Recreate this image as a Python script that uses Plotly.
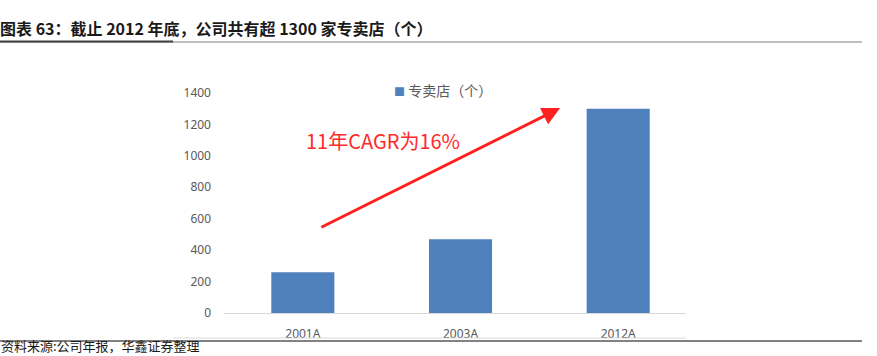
import plotly.graph_objects as go

categories = ["2001A", "2003A", "2012A"]
stores = [260, 470, 1300]
y_ticks = [0, 200, 400, 600, 800, 1000, 1200, 1400]
series_name = "专卖店（个）"
title_text = "图表 63：截止 2012 年底，公司共有超 1300 家专卖店（个）"
source_text = "资料来源:公司年报，华鑫证券整理"
cagr_text = "11年CAGR为16%"

W, H = 877, 356
L, R, T, B = 224, 686, 93, 313
BAR_COLOR = "#4F81BD"


def px(x):
    return (x - L) / (R - L)


def py(y):
    return (B - y) / (B - T)


fig = go.Figure()
fig.add_trace(go.Bar(
    x=categories, y=stores, name=series_name, width=0.4,
    marker=dict(color=BAR_COLOR, line=dict(width=0)),
    showlegend=False,
))

CJK = "Noto Sans CJK SC"

fig.update_layout(
    width=W, height=H,
    margin=dict(l=L, r=W - R, t=T, b=H - B, pad=0, autoexpand=False),
    plot_bgcolor="white", paper_bgcolor="white",
    font=dict(family="Noto Sans, " + CJK, color="#595959", size=12),
    xaxis=dict(
        type="category", range=[-0.5, 2.43], showgrid=False,
        showline=True, linecolor="#D9D9D9", linewidth=1,
        ticks="", ticklabelstandoff=10,
        tickfont=dict(size=12, color="#595959"),
    ),
    yaxis=dict(
        range=[0, 1400], tickvals=y_ticks, showgrid=False, zeroline=False,
        showline=False, ticks="", ticklabelstandoff=12,
        tickfont=dict(size=12, color="#595959"),
    ),
)

# legend entry (square + label)
fig.add_annotation(
    x=px(392), y=py(90), xref="paper", yref="paper",
    text="<span style='color:%s;font-size:11px'>■</span> %s" % (BAR_COLOR, series_name),
    showarrow=False, font=dict(size=14, color="#595959", family=CJK),
    xanchor="left", yanchor="middle",
)

# arrow (head near the 2012A bar top, tail near the 2001A bar)
fig.add_annotation(
    x=1.632, y=1304, xref="x", yref="y",
    ax=0.108, ay=541, axref="x", ayref="y",
    text="", showarrow=True, arrowhead=2, arrowsize=1.2, arrowwidth=3,
    arrowcolor="#FF2020",
)
fig.add_annotation(
    x=px(383), y=py(140), xref="paper", yref="paper",
    text=cagr_text, showarrow=False,
    font=dict(size=20, color="#FF2A2A", family=CJK),
    xanchor="center", yanchor="middle",
)

# title
fig.add_annotation(
    x=px(-2), y=py(28), xref="paper", yref="paper",
    text="<b>" + title_text + "</b>", showarrow=False,
    font=dict(size=16, color="#1a1a1a", family=CJK),
    xanchor="left", yanchor="middle",
)
# source
fig.add_annotation(
    x=px(0), y=py(356), xref="paper", yref="paper",
    text=source_text, showarrow=False, borderpad=0,
    font=dict(size=13, color="#1a1a1a", family=CJK),
    xanchor="left", yanchor="bottom",
)

shapes = [
    dict(type="line", xref="paper", yref="paper", x0=px(0), x1=px(862),
         y0=py(42), y1=py(42), line=dict(color="#7f7f7f", width=1)),
    dict(type="line", xref="paper", yref="paper", x0=px(0), x1=px(173),
         y0=py(41.5), y1=py(41.5), line=dict(color="#404040", width=2)),
    dict(type="line", xref="paper", yref="paper", x0=px(173), x1=px(686),
         y0=py(338), y1=py(338), line=dict(color="#D9D9D9", width=1)),
    dict(type="line", xref="paper", yref="paper", x0=px(0), x1=px(862),
         y0=py(341), y1=py(341), line=dict(color="#595959", width=1.5)),
]
fig.update_layout(shapes=shapes)

fig.write_html("out.html", config={"displayModeBar": False},
               post_script="document.body.style.margin='0';")
